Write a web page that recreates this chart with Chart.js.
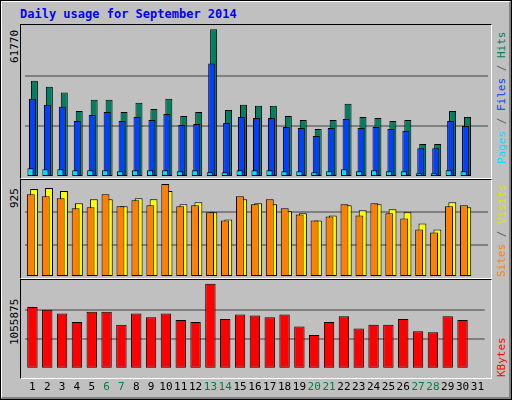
<!DOCTYPE html>
<html>
<head>
<meta charset="utf-8">
<script src="https://cdn.jsdelivr.net/npm/chart.js@4"></script>
<style>
  body { margin: 0; background: #fff; overflow: hidden; }
  #frame { position: absolute; left: 0; top: 0; width: 510px; height: 398px; background: #c0c0c0;
    border: 1px solid #000; }
  #frame:before { content: ''; position: absolute; left: 0; top: 0; right: 0; bottom: 0;
    border-top: 1px solid #fff; border-left: 1px solid #fff; border-right: 2px solid #808080; border-bottom: 2px solid #808080; }
  .panel { position: absolute; left: 20px; width: 470px; background: #c0c0c0;
    border-top: 1px solid #000; border-left: 1px solid #000; border-right: 1px solid #fff; border-bottom: 1px solid #fff; }
  .box { position: absolute; }
  .rot { position: absolute; transform-origin: left top; transform: rotate(-90deg); white-space: nowrap;
    font: 11px "DejaVu Sans Mono", monospace; }
  #title { position: absolute; left: 20px; top: 7px; font: bold 12px "DejaVu Sans Mono", monospace; color: #0000ff; }
</style>
</head>
<body>
<div id="frame"></div>
<div id="title">Daily usage for September 2014</div>
<div class="panel" style="top:24px;height:153px"></div>
<div class="panel" style="top:179px;height:98px"></div>
<div class="panel" style="top:279px;height:98px"></div>

<div class="rot" style="left:8px;top:63px;color:#000">61770</div>
<div class="rot" style="left:8px;top:208px;color:#000">925</div>
<div class="rot" style="left:8px;top:345px;color:#000">1055875</div>

<div class="rot" style="left:495px;top:164px"><span style="color:#00e0ff">Pages</span><span style="color:#606060"> / </span><span style="color:#0040ff">Files</span><span style="color:#606060"> / </span><span style="color:#008060">Hits</span></div>
<div class="rot" style="left:495px;top:277px"><span style="color:#ff8000">Sites</span><span style="color:#606060"> / </span><span style="color:#e0e000">Visits</span></div>
<div class="rot" style="left:495px;top:377px"><span style="color:#ff0000">KBytes</span></div>

<div class="box" style="left:25px;top:25px;width:463px;height:152px"><canvas id="c1"></canvas></div>
<div class="box" style="left:25px;top:180px;width:463px;height:97px"><canvas id="c2"></canvas></div>
<div class="box" style="left:25px;top:280px;width:463px;height:118px"><canvas id="c3"></canvas></div>

<script>
const days = ['1','2','3','4','5','6','7','8','9','10','11','12','13','14','15','16','17','18','19','20','21','22','23','24','25','26','27','28','29','30','31'];
const weekend = ['6','7','13','14','20','21','27','28'];

const hits = [40295,37768,35381,27659,32292,32292,27238,31028,28501,32713,25553,27238,61770,28080,30186,29765,29765,25553,23868,20077,23868,30607,25132,24710,23447,23868,13759,13759,27659,25132];
const files = [32713,30186,29344,23447,25974,27238,23447,25132,23868,26395,21762,22183,47455,22604,25132,24710,24710,20920,20498,17129,20498,24289,20498,20920,20077,19235,12074,12074,23447,21341];
const pages = [3650,3229,3229,2808,2808,2808,2387,2808,2808,2808,2387,2808,1966,1966,2808,2808,2808,2387,2387,1966,2387,3229,2387,2808,2387,2387,1544,1544,2808,2387];

const visits = [875,885,855,734,774,774,704,784,774,855,724,744,643,573,774,734,724,653,633,563,613,714,664,724,674,643,533,473,744,694];
const sites = [824,804,784,684,694,824,704,764,714,925,704,714,643,563,804,724,774,684,623,563,603,724,613,734,633,583,473,442,704,714];

const kbytes = [766866,732184,685941,581894,709062,709062,547211,685941,639698,685941,605015,581894,1055875,616576,674380,662819,639698,674380,524090,420042,581894,651258,500968,547211,547211,616576,466286,454725,651258,605015];

function gridColor(ctx) {
  return (ctx.index === 0 || ctx.index === 3) ? 'rgba(0,0,0,0)' : '#808080';
}

function opts(max, showX) {
  return {
    responsive: true,
    maintainAspectRatio: false,
    animation: false,
    layout: { padding: 0 },
    plugins: { legend: { display: false }, tooltip: { enabled: false } },
    scales: {
      x: {
        display: showX,
        grid: { display: false },
        border: { display: false },
        ticks: {
          autoSkip: false, maxRotation: 0, padding: 4,
          font: { family: 'DejaVu Sans Mono', size: 11 },
          color: ctx => weekend.includes(days[ctx.index]) ? '#008040' : '#000'
        }
      },
      y: {
        min: 0, max: max,
        afterBuildTicks: ax => { ax.ticks = [0, max / 3, max * 2 / 3, max].map(v => ({ value: v })); },
        ticks: { display: false },
        grid: { color: gridColor, lineWidth: 2, drawTicks: false },
        border: { display: false }
      }
    }
  };
}

// order: higher drawn first, so the back bars get the larger number
new Chart(document.getElementById('c1'), {
  type: 'bar',
  data: {
    labels: days,
    datasets: [
      { data: hits, order: 3, backgroundColor: '#008060', borderColor: '#000', borderWidth: 1, borderSkipped: false, categoryPercentage: 0.39, barPercentage: 3.6 },
      { data: files, order: 2, backgroundColor: '#0040ff', borderColor: '#000', borderWidth: 1, borderSkipped: false, categoryPercentage: 0.39, barPercentage: 3.6 },
      { data: pages, order: 1, backgroundColor: '#00e0ff', borderColor: '#000', borderWidth: 1, borderSkipped: false, categoryPercentage: 0.39, barPercentage: 3.2 }
    ]
  },
  options: opts(63600, false)
});

new Chart(document.getElementById('c2'), {
  type: 'bar',
  data: {
    labels: days,
    datasets: [
      { data: visits, order: 2, backgroundColor: '#ffff00', borderColor: '#000', borderWidth: 1, borderSkipped: false, categoryPercentage: 0.44, barPercentage: 2.4 },
      { data: sites, order: 1, backgroundColor: '#ff8000', borderColor: '#000', borderWidth: 1, borderSkipped: false, categoryPercentage: 0.44, barPercentage: 2.4 }
    ]
  },
  options: opts(965, false)
});

new Chart(document.getElementById('c3'), {
  type: 'bar',
  data: {
    labels: days,
    datasets: [
      { data: kbytes, backgroundColor: '#ff0000', borderColor: '#000', borderWidth: 1, borderSkipped: false, categoryPercentage: 0.7, barPercentage: 1 }
    ]
  },
  options: opts(1102000, true)
});
</script>
</body>
</html>
